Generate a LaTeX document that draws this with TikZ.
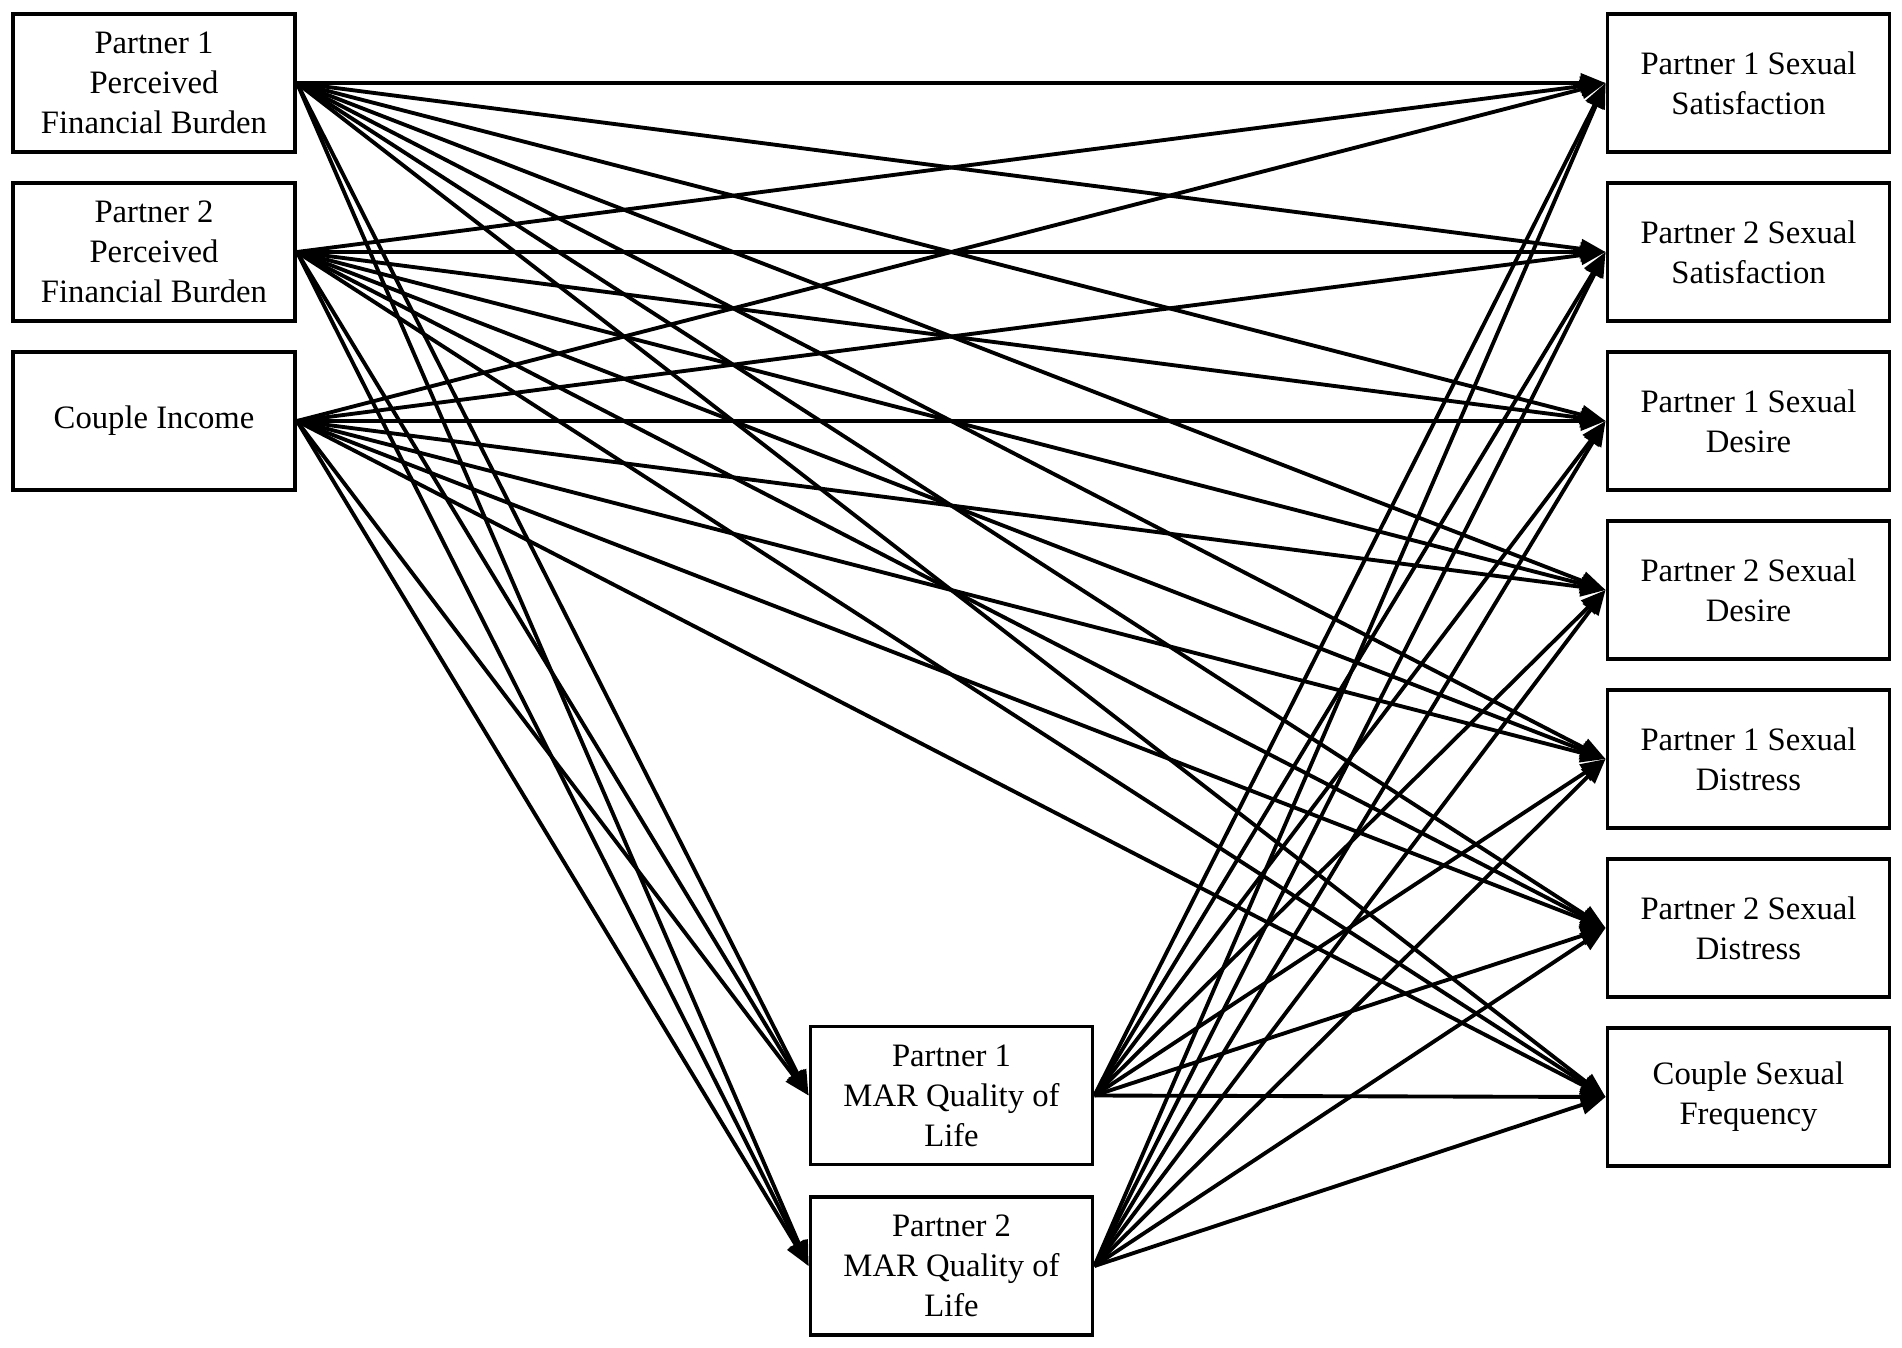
\documentclass[tikz,border=0pt]{standalone}
\usepackage{fontspec}
\setmainfont{Liberation Serif}
\usetikzlibrary{arrows.meta}

\begin{document}
\begin{tikzpicture}[
  box/.style={draw, line width=2.2pt, fill=white, minimum width=5.64cm, minimum height=2.76cm,
    align=center, inner sep=0pt, font=\fontsize{18.6}{22.8}\selectfont},
  arr/.style={-{Triangle[length=0.5cm,width=0.38cm]}, line width=2.2pt}
]
\useasboundingbox (0,0) rectangle (38.04,-26.96);

% Predictors (left column)
\node[box] (pfb1) at (3.08,-1.66) {Partner 1\\Perceived\\Financial Burden};
\node[box] (pfb2) at (3.08,-5.04) {Partner 2\\Perceived\\Financial Burden};
\node[box] (inc)  at (3.08,-8.42) {Couple Income};

% Outcomes (right column)
\foreach \name/\txt [count=\i] in {sat1/{Partner 1 Sexual\\Satisfaction},
    sat2/{Partner 2 Sexual\\Satisfaction}, des1/{Partner 1 Sexual\\Desire},
    des2/{Partner 2 Sexual\\Desire}, dis1/{Partner 1 Sexual\\Distress},
    dis2/{Partner 2 Sexual\\Distress}, freq/{Couple Sexual\\Frequency}} {
  \node[box] (\name) at (34.97,{-1.66-3.38*(\i-1)}) {\txt};
}

% Mediators (bottom middle)
\node[box] (qol1) at (19.03,-21.91) {Partner 1\\MAR Quality of\\Life};
\node[box] (qol2) at (19.03,-25.32) {Partner 2\\MAR Quality of\\Life};

% Paths from predictors
\foreach \s in {pfb1,pfb2,inc}
  \foreach \t in {sat1,sat2,des1,des2,dis1,dis2,freq,qol1,qol2}
    \draw[arr] (\s.east) -- (\t.west);

% Paths from mediators
\foreach \s in {qol1,qol2}
  \foreach \t in {sat1,sat2,des1,des2,dis1,dis2,freq}
    \draw[arr] (\s.east) -- (\t.west);

\end{tikzpicture}
\end{document}
